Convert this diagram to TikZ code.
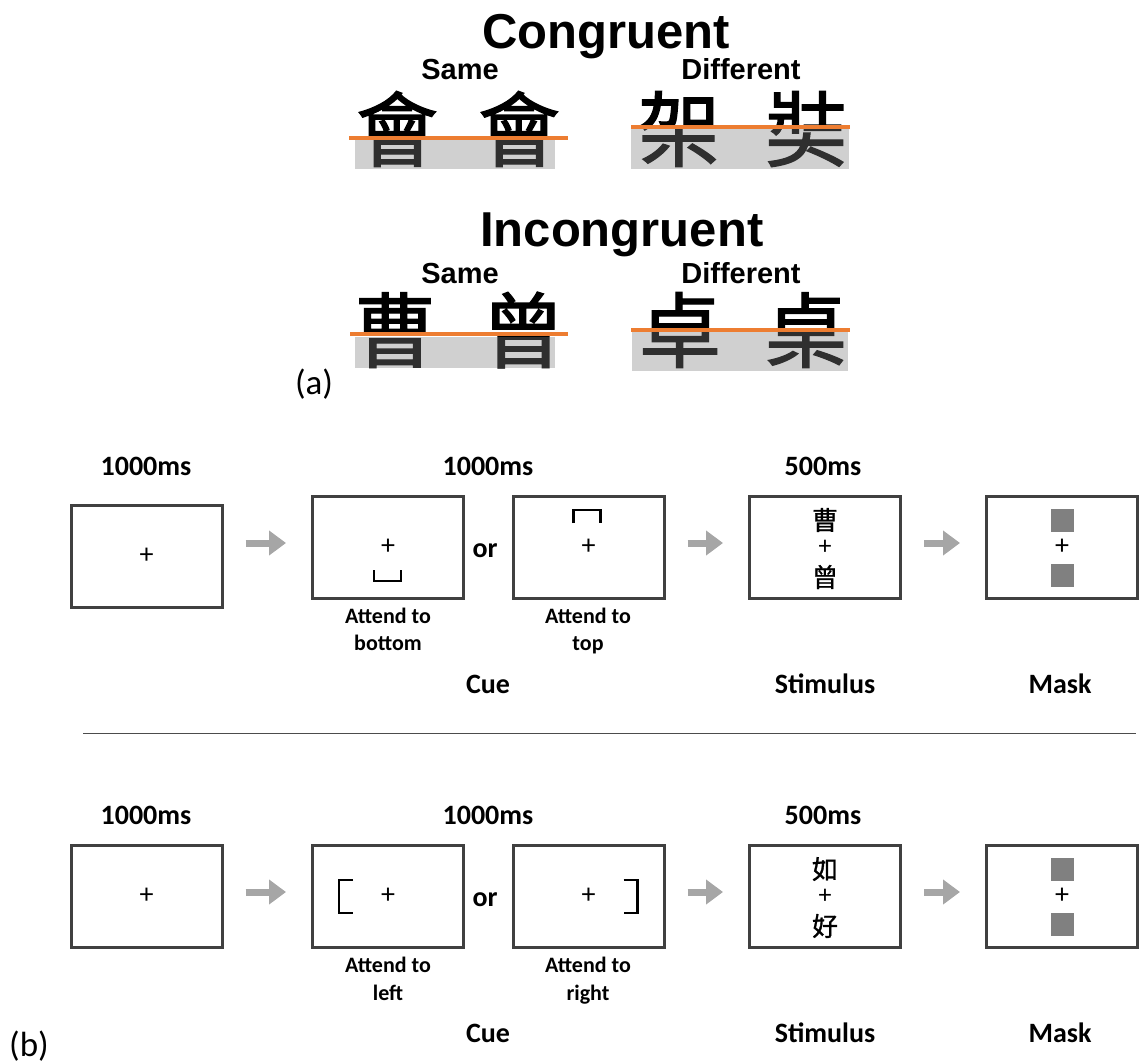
\documentclass[tikz,border=0pt]{standalone}
\usepackage{fontspec}
\setmainfont{Carlito}
\newfontfamily\titlefont{Liberation Sans}
\newfontfamily\hanfont[FakeBold=1.5]{Noto Sans CJK TC}
\newfontfamily\stimfont[FakeBold=1]{Noto Sans CJK TC}
\usetikzlibrary{calc}
\usetikzlibrary{arrows.meta}
\tikzset{>=latex}

\definecolor{cutorange}{RGB}{237,125,49}

\tikzset{
  title/.style={font=\titlefont\bfseries\fontsize{49}{49}\selectfont, anchor=base west, inner sep=0pt},
  pairlab/.style={font=\titlefont\bfseries\fontsize{29}{29}\selectfont, anchor=base, inner sep=0pt},
  bigchar/.style={font=\hanfont\fontsize{82}{82}\selectfont, inner sep=0pt},
  cover/.style={fill=black!50, fill opacity=0.37},
  cut/.style={draw=cutorange, line width=4pt},
  partlab/.style={font=\fontsize{35}{35}\selectfont, anchor=base, inner sep=0pt},
  screen/.style={draw=black!75, line width=3pt, minimum width=151pt, minimum height=102pt, inner sep=0pt, font=\fontsize{28}{28}\selectfont},
  timelab/.style={font=\bfseries\fontsize{28}{28}\selectfont, anchor=base, inner sep=0pt},
  phaselab/.style={font=\bfseries\fontsize{28}{28}\selectfont, anchor=base, inner sep=0pt},
  cuelab/.style={font=\bfseries\fontsize{22}{22}\selectfont, anchor=base, inner sep=0pt},
  ortext/.style={font=\bfseries\fontsize{28}{28}\selectfont, anchor=base, inner sep=0pt},
  fixtext/.style={font=\fontsize{26}{26}\selectfont, inner sep=0pt},
  stim/.style={font=\stimfont\fontsize{26}{26}\selectfont, inner sep=0pt},
  cuemark/.style={draw=black, line width=2.5pt},
  masksq/.style={fill=black!50, minimum size=23pt, inner sep=0pt},
  flow/.style={draw=black!35, line width=7pt, -{Triangle[length=17pt,width=24pt]}, shorten <=22pt, shorten >=25pt},
  rule/.style={draw=black!70, line width=1pt},
}

\begin{document}
\begin{tikzpicture}[x=1pt,y=-1pt]
  \useasboundingbox (0,0) rectangle (1146,1063);

  % (a) congruent / incongruent pairs
  \node[title] (cong) at (482,48) {Congruent};
  \node[pairlab] (csame) at (460,79) {Same};
  \node[pairlab] (cdiff) at (741,79) {Different};
  \node[bigchar] (c1) at (397,129) {會};
  \node[bigchar] (c2) at (519,129) {會};
  \node[bigchar] (c3) at (679,129) {架};
  \node[bigchar] (c4) at (806,129) {奘};
  \fill[cover] (355,136) rectangle (555,169);
  \fill[cover] (631,126) rectangle (849,169);
  \draw[cut] (349,138) -- (568,138);
  \draw[cut] (631,127) -- (850,127);

  \node[title] (incong) at (480,246) {Incongruent};
  \node[pairlab] (isame) at (460,283) {Same};
  \node[pairlab] (idiff) at (741,283) {Different};
  \node[bigchar] (i1) at (395,330) {曹};
  \node[bigchar] (i2) at (523,330) {曾};
  \node[bigchar] (i3) at (680,330) {卓};
  \node[bigchar] (i4) at (806,330) {桌};
  \fill[cover] (355,337) rectangle (555,368);
  \fill[cover] (632,332) rectangle (848,371);
  \draw[cut] (350,334) -- (568,334);
  \draw[cut] (631,330) -- (850,330);

  \node[partlab] (pa) at (314,394) {(a)};

  % (b) top / bottom cue
  \node[timelab] (t1a) at (146,475) {1000ms};
  \node[timelab] (t1b) at (488,475) {1000ms};
  \node[timelab] (t1c) at (823,475) {500ms};

  \node[screen] (s1) at (146.5,556) {+};
  \node[screen] (s2) at (388,547) {+};
  \node[screen] (s3) at (588.5,547) {+};
  \node[screen] (s4) at (825,547) {};
  \node[screen] (s5) at (1062,547) {+};
  \node[ortext] (or1) at (485,557) {or};

  \draw[cuemark] ($(s2.center)+(-14,23)$) -- ++(0,11) -- ++(27,0) -- ++(0,-11);
  \draw[cuemark] ($(s3.center)+(-15,-24)$) -- ++(0,-13) -- ++(27,0) -- ++(0,13);
  \node[stim] (s4t) at ($(s4.center)+(0,-27)$) {曹};
  \node[fixtext] (s4f) at (s4.center) {+};
  \node[stim] (s4b) at ($(s4.center)+(0,30)$) {曾};
  \node[masksq] (s5t) at ($(s5.center)+(0,-27)$) {};
  \node[masksq] (s5b) at ($(s5.center)+(0,28)$) {};

  \draw[flow] ($(s1.east |- s2.west)+(0,-4)$) -- ($(s2.west)+(0,-4)$);
  \draw[flow] ($(s3.east)+(0,-4)$) -- ($(s4.west)+(0,-4)$);
  \draw[flow] ($(s4.east)+(0,-4)$) -- ($(s5.west)+(0,-4)$);

  \node[cuelab] (l1a) at (388,623) {Attend to};
  \node[cuelab] (l1b) at (388,650) {bottom};
  \node[cuelab] (l1c) at (588,623) {Attend to};
  \node[cuelab] (l1d) at (588,650) {top};
  \node[phaselab] (cue1) at (488,693) {Cue};
  \node[phaselab] (stim1) at (825,693) {Stimulus};
  \node[phaselab] (mask1) at (1060,693) {Mask};

  \draw[rule] (83,733) -- (1136,733);

  % (b) left / right cue
  \node[timelab] (t2a) at (146,824) {1000ms};
  \node[timelab] (t2b) at (488,824) {1000ms};
  \node[timelab] (t2c) at (823,824) {500ms};

  \node[screen] (r1) at (146.5,896) {+};
  \node[screen] (r2) at (388,896) {+};
  \node[screen] (r3) at (588.5,896) {+};
  \node[screen] (r4) at (825,896) {};
  \node[screen] (r5) at (1062,896) {+};
  \node[ortext] (or2) at (485,906) {or};

  \draw[cuemark] ($(r2.center)+(-35,-16)$) -- ++(-14,0) -- ++(0,33) -- ++(14,0);
  \draw[cuemark] ($(r3.center)+(35,-16)$) -- ++(14,0) -- ++(0,33) -- ++(-14,0);
  \node[stim] (r4t) at ($(r4.center)+(0,-27)$) {如};
  \node[fixtext] (r4f) at (r4.center) {+};
  \node[stim] (r4b) at ($(r4.center)+(0,30)$) {好};
  \node[masksq] (r5t) at ($(r5.center)+(0,-27)$) {};
  \node[masksq] (r5b) at ($(r5.center)+(0,28)$) {};

  \draw[flow] ($(r1.east)+(0,-4)$) -- ($(r2.west)+(0,-4)$);
  \draw[flow] ($(r3.east)+(0,-4)$) -- ($(r4.west)+(0,-4)$);
  \draw[flow] ($(r4.east)+(0,-4)$) -- ($(r5.west)+(0,-4)$);

  \node[cuelab] (l2a) at (388,972) {Attend to};
  \node[cuelab] (l2b) at (388,1000) {left};
  \node[cuelab] (l2c) at (588,972) {Attend to};
  \node[cuelab] (l2d) at (588,1000) {right};
  \node[phaselab] (cue2) at (488,1042) {Cue};
  \node[phaselab] (stim2) at (825,1042) {Stimulus};
  \node[phaselab] (mask2) at (1060,1042) {Mask};

  \node[partlab] (pb) at (29,1056) {(b)};
\end{tikzpicture}
\end{document}
